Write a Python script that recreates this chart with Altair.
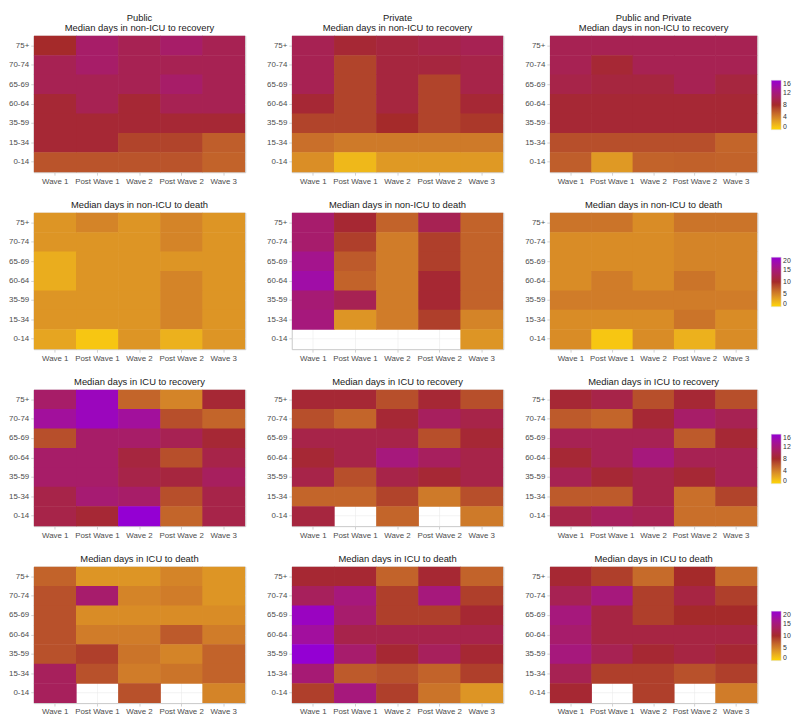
import altair as alt
import pandas as pd

ages = ["75+", "70-74", "65-69", "60-64", "35-59", "15-34", "0-14"]
waves = ["Wave 1", "Post Wave 1", "Wave 2", "Post Wave 2", "Wave 3"]

# rows: 75+ ... 0-14 ; columns: waves
pub_nonicu_rec = [
    [8, 11, 10, 11, 10],
    [10, 11, 10, 10, 10],
    [10, 10, 10, 11, 10],
    [8.5, 10, 8.5, 10, 10],
    [8.5, 8.5, 8.5, 8.5, 8.5],
    [8.5, 8.5, 7, 7, 5.8],
    [6.3, 6.3, 6.3, 6.3, 5.6],
]
pri_nonicu_rec = [
    [10, 8.5, 9, 9.5, 10],
    [10, 7, 9, 9, 9.5],
    [10, 7, 9, 7, 9.5],
    [8.5, 7, 9, 7, 8.5],
    [7, 7, 8, 7, 7.5],
    [5, 4.5, 4.5, 4.5, 4.5],
    [3.5, 1.5, 3, 3, 3],
]
pp_nonicu_rec = [
    [10, 10, 10, 10, 10],
    [10, 8.5, 10, 10, 10],
    [9.5, 9, 9, 10, 9],
    [8.5, 8.5, 8.5, 8.5, 8.5],
    [8.5, 8.5, 8.5, 8.5, 8.5],
    [6.5, 6.5, 6.5, 6.5, 5.5],
    [5.8, 3, 5.6, 5.7, 5.6],
]

pub_nonicu_death = [
    [4, 5, 4, 5, 4],
    [4, 4, 4, 5, 4],
    [2.5, 4, 4, 4, 4],
    [2.5, 4, 4, 5, 4],
    [4, 4, 4, 5, 4],
    [4, 4, 4, 5, 4],
    [3, 1, 4, 2.3, 4],
]
pri_nonicu_death = [
    [14, 10.5, 7, 12.5, 7],
    [14, 9, 5.5, 9, 7],
    [16, 7.5, 5.5, 9, 7],
    [17.5, 7, 5.5, 10.5, 7],
    [14.5, 12.5, 5.5, 10.5, 7],
    [15, 4, 5.5, 9, 5],
    [None, None, None, None, 4],
]
pp_nonicu_death = [
    [6, 6, 4.5, 6, 6],
    [4.5, 4.5, 4.5, 5, 5],
    [4.5, 4.5, 4.5, 5, 5],
    [4.5, 5.5, 4.5, 6, 5],
    [5.5, 5.5, 5.5, 5.5, 5.5],
    [4.5, 4.5, 4.5, 6, 4.5],
    [4.5, 1, 4.5, 2.3, 4.5],
]

pub_icu_rec = [
    [11, 15, 5.5, 4, 8.5],
    [13.5, 15, 13.5, 6.5, 5.5],
    [6.5, 11, 11, 10, 8.5],
    [11, 11, 9, 6.5, 9.5],
    [11, 11, 9.5, 9, 10.5],
    [9.5, 11.5, 11, 6.5, 9.5],
    [9.5, 8.5, 16, 5.5, 9.5],
]
pri_icu_rec = [
    [8.5, 8.5, 6.5, 8.5, 6.5],
    [6.5, 5.5, 8.5, 10.5, 9.5],
    [9.5, 9.5, 9.5, 6.5, 8.5],
    [8.5, 9.5, 12, 10.5, 9.5],
    [9.5, 6.5, 9.5, 8.5, 9.5],
    [5.5, 5.5, 7, 4.5, 6.5],
    [9, None, 5.5, None, 4.5],
]
pp_icu_rec = [
    [8.5, 9.5, 6.5, 8.5, 6.5],
    [6, 5.5, 8.5, 11, 10],
    [10, 10, 10, 6, 8.5],
    [8.5, 10, 12, 10, 10],
    [10, 8.5, 9.5, 8.5, 10],
    [6, 6, 9.5, 5, 7],
    [9.5, 10.5, 10, 5, 5],
]

pub_icu_death = [
    [7, 4, 4, 5, 4],
    [8, 14, 5, 5.5, 4],
    [8, 4.5, 4.5, 4.5, 4.5],
    [8, 5.5, 5.5, 7.5, 5.5],
    [8, 9, 6, 5, 7],
    [13, 8, 5.5, 6, 7],
    [13, None, 8, None, 5],
]
pri_icu_death = [
    [10.5, 10.5, 7, 10.5, 7],
    [13, 15, 9, 15, 9],
    [19, 14, 9, 9, 10.5],
    [17, 12, 12, 12, 12],
    [20, 14, 10.5, 13, 10.5],
    [14.5, 7.5, 8, 7, 9],
    [9, 15, 9, 6, 4],
]
pp_icu_death = [
    [10.5, 9, 6.5, 10, 6.5],
    [12.5, 15, 9, 11.5, 9],
    [15, 11.5, 9, 10, 10],
    [14, 11.5, 11.5, 11.5, 11.5],
    [15, 12.5, 10.5, 11.5, 10.5],
    [12.5, 9, 9, 8, 9],
    [10.5, None, 9, None, 5.5],
]

row_specs = [
    ("Median days in non-ICU to recovery", [pub_nonicu_rec, pri_nonicu_rec, pp_nonicu_rec], [0, 8, 16], [0, 4, 8, 12, 16]),
    ("Median days in non-ICU to death", [pub_nonicu_death, pri_nonicu_death, pp_nonicu_death], [0, 10, 20], [0, 5, 10, 15, 20]),
    ("Median days in ICU to recovery", [pub_icu_rec, pri_icu_rec, pp_icu_rec], [0, 8, 16], [0, 4, 8, 12, 16]),
    ("Median days in ICU to death", [pub_icu_death, pri_icu_death, pp_icu_death], [0, 10, 20], [0, 5, 10, 15, 20]),
]
sectors = ["Public", "Private", "Public and Private"]
widths = [214, 214, 210]
H = 138
FONT = "Liberation Sans"
PALETTE = ["#FFD700", "#A52A2A", "#9400D3"]


def panel(values, title, domain, ticks, show_legend, width):
    recs = []
    for i, a in enumerate(ages):
        for j, w in enumerate(waves):
            v = values[i][j]
            if v is not None:
                recs.append({"age": a, "wave": w, "days": v})
    df = pd.DataFrame(recs)
    if show_legend:
        legend = alt.Legend(
            title=None, orient="none", legendX=width + 14, legendY=45,
            gradientLength=50, gradientThickness=10, values=ticks,
            labelFontSize=7, labelColor="#333333", labelFont=FONT,
            gradientStrokeColor="#dddddd", gradientStrokeWidth=0.5,
        )
    else:
        legend = None
    return alt.Chart(df, title=alt.Title(
        title, fontSize=9.5, fontWeight="normal", font=FONT, color="#1a1a1a",
        offset=3, lineHeight=10.5, anchor="middle")).mark_rect(
        width=alt.RelativeBandSize(band=1.015),
        height=alt.RelativeBandSize(band=1.025),
    ).encode(
        x=alt.X("wave:N", scale=alt.Scale(domain=waves, paddingInner=0, paddingOuter=0.012),
                axis=alt.Axis(title=None, labelAngle=0, grid=True, bandPosition=0.5, zindex=0)),
        y=alt.Y("age:N", scale=alt.Scale(domain=ages, paddingInner=0, paddingOuter=0.012),
                axis=alt.Axis(title=None, grid=True, bandPosition=0.5, zindex=0)),
        color=alt.Color("days:Q", scale=alt.Scale(
            domain=domain, range=PALETTE, interpolate="lab"),
            legend=legend),
        tooltip=["wave", "age", "days"],
    ).properties(width=width, height=H)


rows = []
for r, (title, mats, domain, ticks) in enumerate(row_specs):
    panels = []
    for c in range(3):
        t = [sectors[c], title] if r == 0 else title
        panels.append(panel(mats[c], t, domain, ticks, c == 2, widths[c]))
    rows.append(alt.hconcat(*panels, spacing=20).resolve_scale(color="independent"))

chart = alt.vconcat(*rows, spacing=13).resolve_scale(color="independent").properties(
    padding={"left": 0, "top": 0, "right": 0, "bottom": 0}
).configure_view(
    stroke="#C8C8C8", strokeWidth=1
).configure_axis(
    labelFont=FONT, labelFontSize=8, labelColor="#4D4D4D",
    tickColor="#B3B3B3", tickSize=3, tickWidth=0.6, labelPadding=2,
    domain=False, gridColor="#EBEBEB", gridWidth=0.6,
).configure_concat(spacing=10)

chart.save("out.html", embed_options={"renderer": "svg", "actions": False})
